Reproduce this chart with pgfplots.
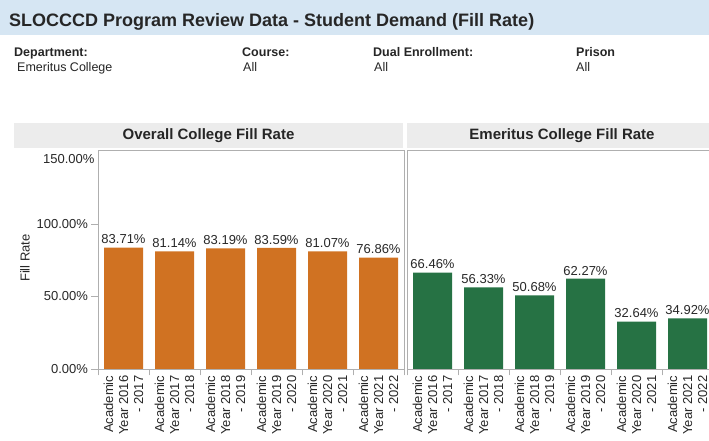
\documentclass[border=0pt]{standalone}
\usepackage{pgfplots}
\pgfplotsset{compat=1.18}
\usepackage{fontspec}
\setmainfont{Liberation Sans}
\definecolor{banner}{RGB}{214,230,243}
\definecolor{hdr}{RGB}{236,236,236}
\definecolor{orng}{RGB}{208,114,34}
\definecolor{grn}{RGB}{38,114,68}
\definecolor{axgray}{RGB}{175,175,175}
\definecolor{txt}{RGB}{40,40,40}
\pgfplotsset{
  /pgf/number format/assume math mode=true,
  panel/.style={
    at={(#1,72pt)}, anchor=south west, scale only axis,
    width=306pt, height=219pt,
    xmin=-0.5, xmax=5.5, ymin=0, ymax=151,
    xtick={-0.5,0.5,1.5,2.5,3.5,4.5,5.5},
    x tick label as interval,
    xticklabels={{Academic\\Year 2016\\- 2017},{Academic\\Year 2017\\- 2018},{Academic\\Year 2018\\- 2019},{Academic\\Year 2019\\- 2020},{Academic\\Year 2020\\- 2021},{Academic\\Year 2021\\- 2022}},
    xticklabel style={rotate=90, anchor=east, align=right, inner sep=0pt,
      font=\fontsize{13}{15}\selectfont, text=txt},
    xtick pos=bottom, ytick pos=left,
    tick align=outside, major tick length=6.5pt,
    tick style={axgray, line width=0.8pt},
    axis line style={axgray, line width=0.8pt},
    nodes near coords={\pgfmathprintnumber[fixed,fixed zerofill,precision=2]{\pgfplotspointmeta}\%},
    every node near coord/.append style={font=\fontsize{13}{15}\selectfont, text=txt},
    clip=false,
  }
}
\begin{document}
\begin{tikzpicture}[x=1pt,y=1pt]
\path[use as bounding box, clip] (0,0) rectangle (709,441);
\fill[white] (0,0) rectangle (709,441);
% banner
\fill[banner] (0,441) rectangle (709,406);
\node[anchor=base west, inner sep=0pt, font=\bfseries\fontsize{18}{20}\selectfont, text=black!85] at (9,414) {SLOCCCD Program Review Data - Student Demand (Fill Rate)};
% filters
\begin{scope}[every node/.style={anchor=base west, inner sep=0pt, text=black!85}]
\node[font=\bfseries\fontsize{12.5}{14}\selectfont] at (14,384) {Department:};
\node[font=\fontsize{12.5}{14}\selectfont] at (17,369) {Emeritus College};
\node[font=\bfseries\fontsize{12.5}{14}\selectfont] at (242,384) {Course:};
\node[font=\fontsize{12.5}{14}\selectfont] at (243,369) {All};
\node[font=\bfseries\fontsize{12.5}{14}\selectfont] at (373,384) {Dual Enrollment:};
\node[font=\fontsize{12.5}{14}\selectfont] at (374,369) {All};
\node[font=\bfseries\fontsize{12.5}{14}\selectfont] at (576,384) {Prison};
\node[font=\fontsize{12.5}{14}\selectfont] at (576,369) {All};
\end{scope}
% panel headers
\fill[hdr] (14,318) rectangle (403,293);
\fill[hdr] (407,318) rectangle (709,293);
\node[font=\bfseries\fontsize{15}{17}\selectfont, text=black!85] at (208.5,305.5) {Overall College Fill Rate};
\node[font=\bfseries\fontsize{15}{17}\selectfont, text=black!85] at (562,305.5) {Emeritus College Fill Rate};
% y label
\node[rotate=90, font=\fontsize{13}{15}\selectfont, text=txt] at (25,183) {Fill Rate};

\begin{axis}[panel=98pt,
  ytick={0,50,100},
  yticklabel={\pgfmathprintnumber[fixed,fixed zerofill,precision=2]{\tick}\%},
  yticklabel style={font=\fontsize{13}{15}\selectfont, text=txt},
  extra y ticks={150},
  extra y tick style={yticklabel style={yshift=-8pt}, major tick length=0pt},
]
\addplot[ybar, bar width=39pt, fill=orng, draw=none] coordinates {
(0,83.71) (1,81.14) (2,83.19) (3,83.59) (4,81.07) (5,76.86)};
\end{axis}

\begin{axis}[panel=407pt, ytick=\empty]
\addplot[ybar, bar width=39pt, fill=grn, draw=none] coordinates {
(0,66.46) (1,56.33) (2,50.68) (3,62.27) (4,32.64) (5,34.92)};
\end{axis}
\end{tikzpicture}
\end{document}
